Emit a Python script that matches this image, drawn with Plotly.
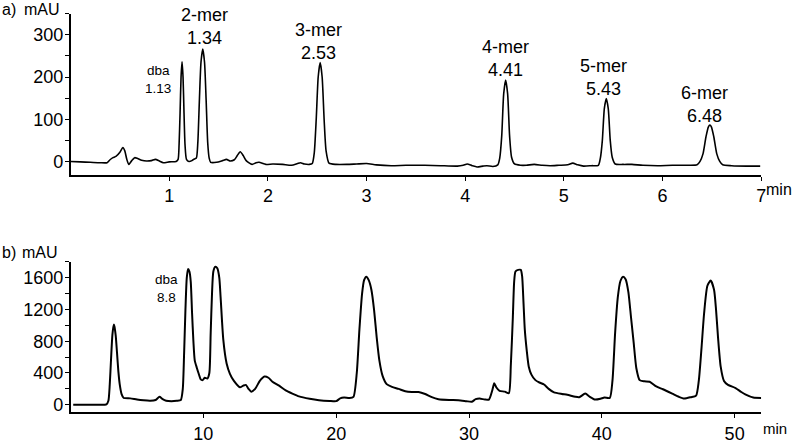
import plotly.graph_objects as go

# panel a) chromatogram, time (min) vs absorbance (mAU)
t_a = [0.0, 0.1, 0.2, 0.3, 0.37, 0.40, 0.43, 0.46, 0.50, 0.53, 0.55, 0.57, 0.59, 0.62, 0.65, 0.68,
       0.72, 0.77, 0.82, 0.86, 0.90, 0.94, 1.0, 1.07, 1.09, 1.10, 1.11, 1.12, 1.13, 1.14, 1.15, 1.16,
       1.175, 1.20, 1.23, 1.255, 1.275, 1.29, 1.305, 1.322, 1.34, 1.358, 1.375, 1.39, 1.405, 1.42,
       1.48, 1.54, 1.58, 1.62, 1.66, 1.69, 1.72, 1.75, 1.78, 1.84, 1.88, 1.91, 1.98, 2.05, 2.15,
       2.24, 2.30, 2.33, 2.37, 2.42, 2.45, 2.47, 2.49, 2.51, 2.53, 2.55, 2.57, 2.59, 2.62, 2.69,
       2.8, 2.9, 3.0, 3.1, 3.25, 3.4, 3.59, 3.75, 3.92, 3.98, 4.02, 4.07, 4.12, 4.18, 4.22, 4.28,
       4.33, 4.35, 4.37, 4.39, 4.41, 4.43, 4.45, 4.47, 4.50, 4.56, 4.62, 4.70, 4.78, 4.86, 4.95,
       5.04, 5.09, 5.14, 5.2, 5.28, 5.35, 5.37, 5.39, 5.41, 5.43, 5.45, 5.47, 5.49, 5.52, 5.6,
       5.69, 5.8, 5.95, 6.1, 6.25, 6.35, 6.38, 6.41, 6.44, 6.465, 6.48, 6.495, 6.52, 6.55, 6.58,
       6.61, 6.7, 6.85, 6.99]
y_a = [0, -1, -2, -3, -3, 4, 9, 12, 22, 33, 25, 5, -7, 2, 9, 7,
       3, 1, 2, 5, 1, -3, -1, 0, 5, 40, 115, 200, 236, 200, 115, 40,
       5, 0, 2, 6, 8, 45, 140, 235, 266, 235, 140, 45, 8, -2,
       -2, 2, 5, 1, 4, 14, 23, 14, 2, -7, -3, -2, -7, -6, -7,
       -9, -5, -3, -6, -7, -5, 20, 100, 200, 234, 200, 100, 25, -4, -7,
       -7, -6, -5, -8, -10, -9, -9, -10, -11, -9, -6, -10, -13, -11, -10, -12,
       -8, 8, 60, 160, 193, 160, 60, 10, -6, -9, -9, -7, -9, -10, -9,
       -8, -4, -8, -11, -10, -9, 8, 50, 125, 149, 125, 50, 10, -6, -7,
       -7, -9, -10, -9, -9, -8, 0, 18, 58, 82, 86, 82, 58, 18, 0,
       -8, -10, -11, -11]

# panel b) chromatogram
t_b = [0.2, 1.0, 2.0, 2.7, 2.85, 2.95, 3.05, 3.15, 3.25, 3.3, 3.4, 3.5, 3.6, 3.7, 3.85, 4.0,
       4.5, 5.0, 5.5, 6.0, 6.4, 6.7, 6.9, 7.2, 7.6, 8.0, 8.3, 8.45, 8.55, 8.65, 8.75, 8.85, 8.95,
       9.05, 9.15, 9.25, 9.35, 9.5, 9.65, 9.8, 9.95, 10.1, 10.3, 10.45, 10.55, 10.65, 10.75, 10.9,
       11.05, 11.2, 11.3, 11.5, 11.75, 12.0, 12.3, 12.75, 13.0, 13.2, 13.4, 13.6, 13.9, 14.25,
       14.6, 14.9, 15.2, 15.7, 16.2, 16.7, 17.2, 18.0, 18.7, 19.5, 20.0, 20.3, 20.6, 21.0, 21.3,
       21.55, 21.75, 21.95, 22.1, 22.27, 22.45, 22.65, 22.85, 23.05, 23.25, 23.5, 23.8, 24.2,
       24.7, 25.2, 25.7, 26.2, 26.7, 27.2, 27.7, 28.5, 29.2, 29.8, 30.2, 30.5, 30.8, 31.2, 31.5,
       31.75, 31.9, 32.05, 32.3, 32.7, 33.0, 33.15, 33.3, 33.4, 33.5, 33.7, 33.9, 34.0, 34.1,
       34.2, 34.35, 34.5, 34.7, 35.0, 35.3, 35.65, 36.0, 36.4, 37.0, 37.4, 38.0, 38.3, 38.75,
       39.1, 39.5, 39.9, 40.2, 40.6, 40.8, 41.0, 41.2, 41.4, 41.6, 41.8, 42.0, 42.2, 42.4, 42.6,
       42.85, 43.2, 43.6, 44.1, 44.6, 45.3, 45.8, 46.2, 46.7, 47.1, 47.3, 47.5, 47.7, 47.95,
       48.2, 48.45, 48.6, 48.75, 48.95, 49.2, 49.5, 50.07, 50.5, 50.8, 51.4, 52.0]
y_b = [0, 0, 0, 5, 50, 250, 580, 880, 1010, 990, 870, 650, 420, 260, 130, 85,
       80, 65, 55, 50, 60, 100, 75, 50, 45, 50, 60, 200, 650, 1200, 1600, 1710, 1680,
       1550, 1150, 800, 560, 470, 390, 320, 310, 340, 330, 400, 900, 1400, 1680, 1740,
       1720, 1600, 1350, 820, 520, 390, 300, 220, 240, 250, 200, 165, 200, 300,
       355, 340, 290, 240, 180, 140, 105, 75, 57, 47, 45, 80, 90, 85, 100,
       400, 950, 1400, 1570, 1615, 1570, 1450, 1200, 850, 560, 360, 260, 225,
       200, 170, 160, 160, 135, 95, 70, 60, 57, 45, 37, 70, 78, 65, 65,
       180, 270, 220, 175, 165, 145, 500, 1100, 1550, 1680, 1700, 1700, 1620, 1300,
       950, 680, 480, 380, 310, 280, 255, 200, 155, 135, 125, 100, 95, 140,
       100, 65, 75, 90, 85, 300, 900, 1350, 1560, 1615, 1580, 1420, 1100, 780, 460,
       310, 295, 290, 230, 195, 140, 100, 78, 95, 115, 300, 700, 1150, 1500,
       1565, 1450, 1200, 850, 480, 300, 250, 210, 160, 130, 90, 85]

peak_names = ["2-mer", "3-mer", "4-mer", "5-mer", "6-mer"]
rt_a = ["1.34", "2.53", "4.41", "5.43", "6.48"]
rt_b = ["10.8", "22.3", "33.7", "41.6", "48.2"]
dba_a = "1.13"
dba_b = "8.8"

xticks_a = [1, 2, 3, 4, 5, 6, 7]
xticks_b = [10, 20, 30, 40, 50]
yticks_a = [0, 100, 200, 300]
yticks_b = [0, 400, 800, 1200, 1600]

# label anchor points (data coords) for each peak label
lab_a = [(1.358, 319), (2.515, 285), (4.406, 244), (5.402, 200), (6.428, 135)]
lab_b = [(10.37, 1994), (22.01, 1902), (33.5, 1988), (41.27, 1895), (47.99, 1858)]

FONT = "Liberation Sans, Arial, sans-serif"

fig = go.Figure()
fig.add_trace(go.Scatter(x=t_a, y=y_a, mode="lines", xaxis="x", yaxis="y",
                         line=dict(color="black", width=1.6, shape="spline", smoothing=0.6),
                         showlegend=False))
fig.add_trace(go.Scatter(x=t_b, y=y_b, mode="lines", xaxis="x2", yaxis="y2",
                         line=dict(color="black", width=2, shape="spline", smoothing=0.6),
                         showlegend=False))

axis_style = dict(showline=True, linecolor="black", linewidth=1.5, ticks="outside",
                  ticklen=4, tickwidth=1, tickcolor="black", showgrid=False, zeroline=False,
                  tickfont=dict(size=18, color="black", family=FONT))

fig.update_layout(
    width=797, height=444,
    margin=dict(l=0, r=0, t=0, b=0),
    plot_bgcolor="white", paper_bgcolor="white",
    font=dict(family=FONT, color="black"),
    xaxis=dict(domain=[71 / 797, 766 / 797], anchor="y", range=[0, 7], tickvals=xticks_a, **axis_style),
    yaxis=dict(domain=[1 - 179 / 444, 1 - 14 / 444], anchor="x", range=[-32, 350], tickvals=yticks_a,
               ticklabelstandoff=-2,
               minor=dict(dtick=50, tick0=0, ticks="outside", ticklen=4, tickcolor="black"), **axis_style),
    xaxis2=dict(domain=[71 / 797, 766 / 797], anchor="y2", range=[0, 52], tickvals=xticks_b, **axis_style),
    yaxis2=dict(domain=[1 - 422 / 444, 1 - 268 / 444], anchor="x2", range=[-98, 1800], tickvals=yticks_b,
                ticklabelstandoff=-2,
                minor=dict(dtick=200, tick0=0, ticks="outside", ticklen=4, tickcolor="black"), **axis_style),
)

for (x, y), name, rt in zip(lab_a, peak_names, rt_a):
    fig.add_annotation(x=x, y=y, xref="x", yref="y", text=f"{name}<br>{rt}", showarrow=False,
                       font=dict(size=18), align="center")
for (x, y), name, rt in zip(lab_b, peak_names, rt_b):
    fig.add_annotation(x=x, y=y, xref="x2", yref="y2", text=f"{name}<br>{rt}", showarrow=False,
                       font=dict(size=18), align="center")

fig.add_annotation(x=0.885, y=193, xref="x", yref="y", text=f"dba<br>{dba_a}", showarrow=False,
                   font=dict(size=13.5), align="center")
fig.add_annotation(x=7.24, y=1460, xref="x2", yref="y2", text=f"dba<br>{dba_b}", showarrow=False,
                   font=dict(size=13.5), align="center")

# panel letters, units
for txt, px, py in [("a)", 0, 10), ("mAU", 22, 10), ("b)", 0, 258), ("mAU", 20, 258)]:
    fig.add_annotation(x=px / 797, y=1 - py / 444, xref="paper", yref="paper", text=txt,
                       xanchor="left", yanchor="middle", showarrow=False, font=dict(size=16))
fig.add_annotation(x=769 / 797, y=1 - 194 / 444, xref="paper", yref="paper", text="min",
                   xanchor="left", yanchor="middle", showarrow=False, font=dict(size=16))
fig.add_annotation(x=766 / 797, y=1 - 438 / 444, xref="paper", yref="paper", text="min",
                   xanchor="left", yanchor="middle", showarrow=False, font=dict(size=15))

# page body has a default margin; drop it so the figure sits at the window origin
fig.write_html("out.html", config={"displayModeBar": False},
               post_script="document.body.style.margin='0';")
